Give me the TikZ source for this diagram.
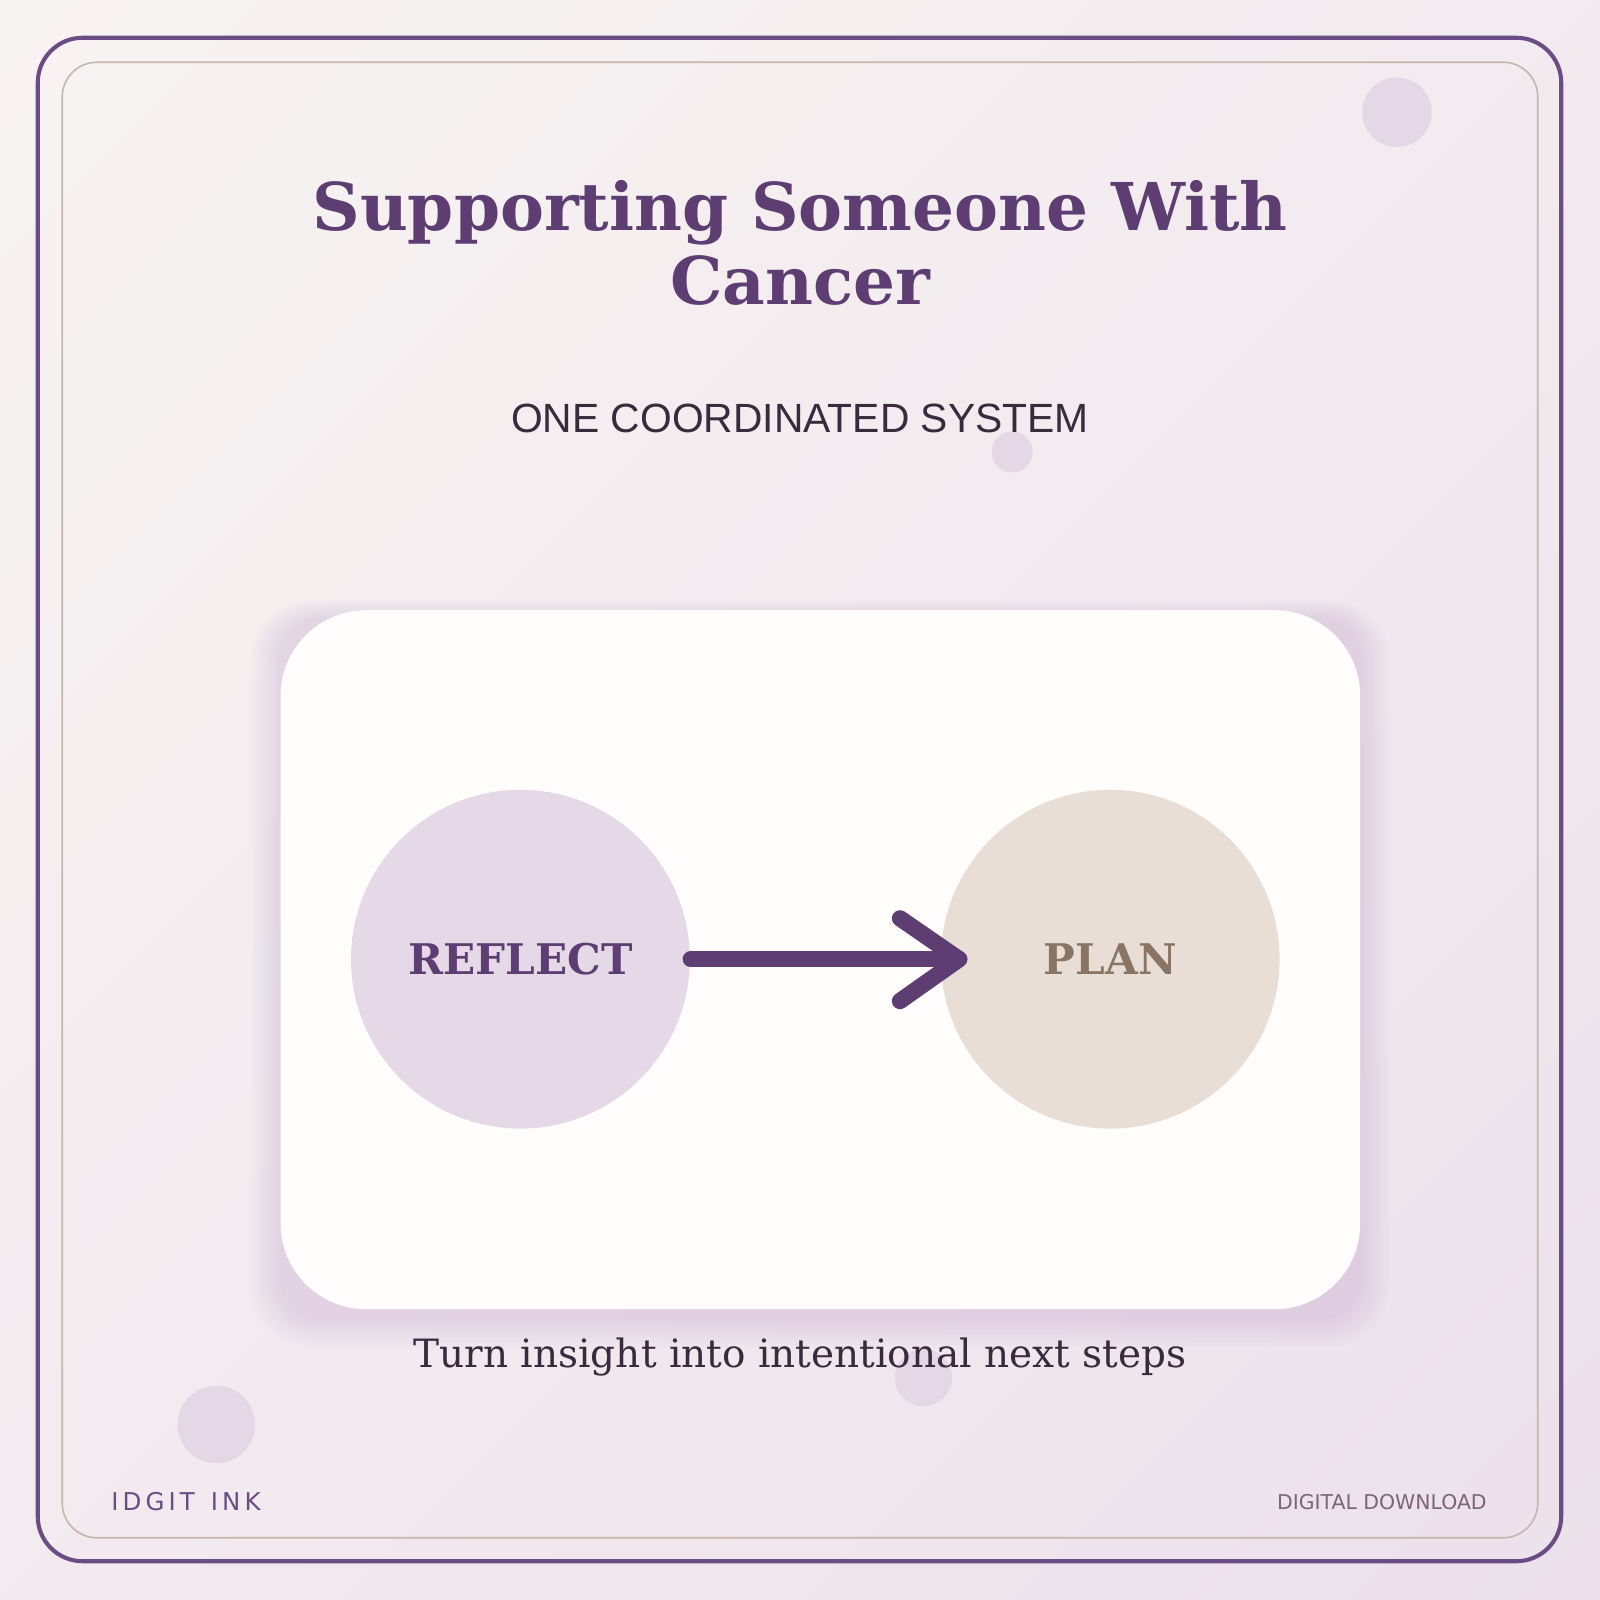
\documentclass[tikz,border=0pt]{standalone}
\usepackage{fontspec}
\setmainfont{DejaVu Serif}
\newfontfamily\subf{Liberation Sans}
\newfontfamily\dsans{DejaVu Sans}
\usetikzlibrary{shadings}
\definecolor{bgA}{HTML}{F8F4F2}
\definecolor{bgB}{HTML}{ECE1EC}
\definecolor{purp}{HTML}{5E3D72}
\definecolor{frame}{HTML}{6B4C85}
\definecolor{tan}{HTML}{C9B6AA}
\definecolor{dot}{HTML}{E4D8E6}
\definecolor{cardw}{HTML}{FEFDFC}
\definecolor{lav}{HTML}{E5D9E8}
\definecolor{sand}{HTML}{E8DED6}
\definecolor{brn}{HTML}{8A7565}
\definecolor{ink}{HTML}{3A2A3E}
\definecolor{shd}{HTML}{6B4C85}
\begin{document}
\begin{tikzpicture}[x=0.5pt,y=-0.5pt,
  deco/.style={fill=dot,draw=none},
  circ/.style={circle,minimum size=332*0.5pt,inner sep=0pt,draw=none,font=\bfseries\fontsize{20.7}{24}\selectfont}]
\useasboundingbox (0,0) rectangle (1568,1568);
\shade[upper left=bgA,upper right=bgA!50!bgB,lower left=bgA!50!bgB,lower right=bgB] (0,0) rectangle (1568,1568);
\draw[frame,line width=2pt,rounded corners=22pt] (37,37) rectangle (1530,1530);
\draw[tan,line width=0.8pt,rounded corners=17pt] (61,61) rectangle (1507,1507);
\fill[deco] (1369,110) circle (34);
\fill[deco] (992,443) circle (20);
\fill[deco] (212,1396) circle (38);
\fill[deco] (905,1350) circle (28);
\node[font=\bfseries\fontsize{32.3}{36.5}\selectfont,text=purp,align=center] (title) at (784,238) {Supporting Someone With\\Cancer};
\node[font=\subf\fontsize{20}{24}\selectfont,text=ink] (sub) at (784,410) {ONE COORDINATED SYSTEM};
\foreach \i in {1,...,12}{
  \fill[shd,opacity=0.008,rounded corners={(42+\i*1.5)*0.5pt}] (275-\i*2.5,598-\i*1.5+8) rectangle (1333+\i*2.5,1283+\i*2.5+8);
}
\fill[cardw,rounded corners=42pt] (275,598) rectangle (1333,1283);
\node[circ,fill=lav,text=purp] (reflect) at (510,940) {REFLECT};
\node[circ,fill=sand,text=brn] (plan) at (1088,940) {PLAN};
\coordinate (a0) at (677,940);
\coordinate (a1) at (940,940);
\draw[purp,line width=8pt,line cap=round,line join=round] (a0) -- (a1);
\draw[purp,line width=8pt,line cap=round,line join=round] (882,900) -- (a1) -- (882,981);
\node[font=\fontsize{19.1}{23}\selectfont,text=ink] (cap) at (784,1330) {Turn insight into intentional next steps};
\node[font=\dsans\fontsize{12}{14}\selectfont,text=frame,anchor=west] (brand) at (102,1472) {I\,D\,G\,I\,T\, \,I\,N\,K};
\node[font=\dsans\fontsize{10}{12}\selectfont,text=brn!60!frame,anchor=east] (dl) at (1464,1472) {DIGITAL DOWNLOAD};
\end{tikzpicture}
\end{document}
